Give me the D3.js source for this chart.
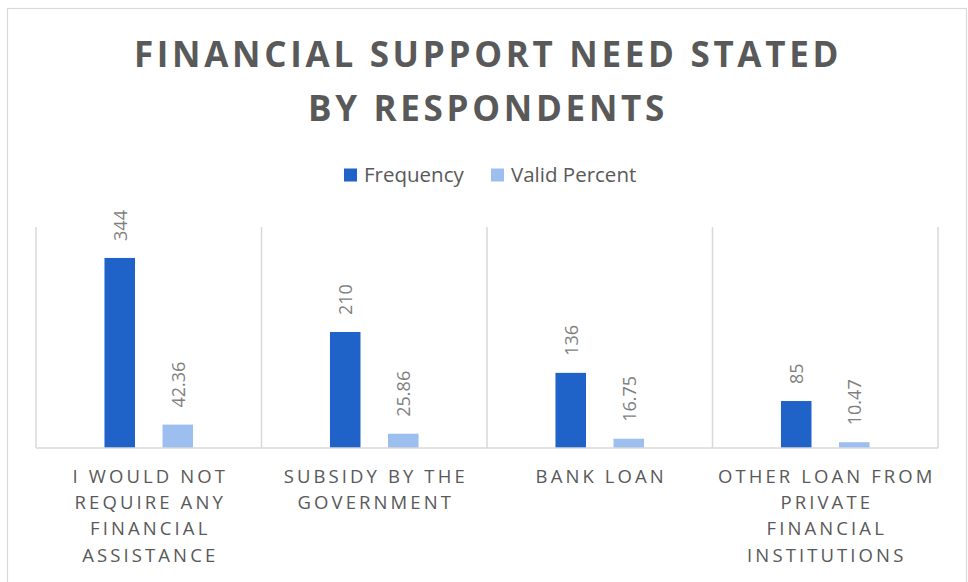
<!DOCTYPE html>
<html>
<head>
<meta charset="utf-8">
<script src="https://cdn.jsdelivr.net/npm/d3@7"></script>
<style>
  html, body { margin: 0; padding: 0; background: #ffffff; }
  svg { display: block; font-family: "Open Sans", "Noto Sans", sans-serif; }
</style>
</head>
<body>
<svg id="chart" width="968" height="582"></svg>
<script>
// Survey answers: what kind of financial support respondents say they need
const categories = [
  ["I WOULD NOT", "REQUIRE ANY", "FINANCIAL", "ASSISTANCE"],
  ["SUBSIDY BY THE", "GOVERNMENT"],
  ["BANK LOAN"],
  ["OTHER LOAN FROM", "PRIVATE", "FINANCIAL", "INSTITUTIONS"]
];
const seriesNames = ["Frequency", "Valid Percent"];
const frequency = [344, 210, 136, 85];
const validPercent = [42.36, 25.86, 16.75, 10.47];
const yTicks = [0, 400];
const titleLines = ["FINANCIAL SUPPORT NEED STATED", "BY RESPONDENTS"];

const colors = { "Frequency": "#1f63c8", "Valid Percent": "#9dbfef" };

const svg = d3.select("#chart");
const plot = { left: 36, right: 938, top: 227, bottom: 448 };

// chart frame
svg.append("rect")
  .attr("x", 7.5).attr("y", 8.5)
  .attr("width", 959).attr("height", 590)
  .attr("fill", "#ffffff")
  .attr("stroke", "#d9d9d9").attr("stroke-width", 1.2);

// title
svg.append("g").selectAll("text")
  .data(titleLines).join("text")
  .attr("x", 488)
  .attr("y", (d, i) => 67 + i * 53.5)
  .attr("text-anchor", "middle")
  .attr("fill", "#595959")
  .attr("font-weight", 700)
  .attr("font-size", 35)
  .attr("letter-spacing", 3.7)
  .text(d => d);

const keys = categories.map((c, i) => i);
const x0 = d3.scaleBand().domain(keys).range([plot.left, plot.right]).paddingInner(0).paddingOuter(0);
const x1 = d3.scaleBand().domain(seriesNames).range([0, x0.bandwidth()]).paddingInner(0.474).paddingOuter(1.18);
const y = d3.scaleLinear().domain(d3.extent(yTicks)).range([plot.bottom, plot.top]);

// category separators
const gridX = keys.map(k => x0(k)).concat([plot.right]);
svg.append("g").selectAll("line")
  .data(gridX).join("line")
  .attr("x1", d => d).attr("x2", d => d)
  .attr("y1", y(yTicks[1])).attr("y2", plot.bottom)
  .attr("stroke", "#d9d9d9").attr("stroke-width", 1.5);

// bars
const rows = keys.map(i => ({ i, values: [
  { key: "Frequency", value: frequency[i], label: String(frequency[i]) },
  { key: "Valid Percent", value: validPercent[i], label: validPercent[i].toFixed(2) }
]}));

const groups = svg.append("g").selectAll("g")
  .data(rows).join("g")
  .attr("transform", d => `translate(${x0(d.i)},0)`);

groups.selectAll("rect")
  .data(d => d.values).join("rect")
  .attr("x", d => x1(d.key))
  .attr("y", d => y(d.value))
  .attr("width", x1.bandwidth())
  .attr("height", d => plot.bottom - y(d.value))
  .attr("fill", d => colors[d.key]);

// value labels, rotated
groups.selectAll("text")
  .data(d => d.values).join("text")
  .attr("transform", d => `translate(${x1(d.key) + x1.bandwidth() / 2},${y(d.value) - 17}) rotate(-90)`)
  .attr("dominant-baseline", "central")
  .attr("fill", "#7f7f7f")
  .attr("font-size", 18)
  .text(d => d.label);

// baseline
svg.append("line")
  .attr("x1", plot.left).attr("x2", plot.right)
  .attr("y1", plot.bottom).attr("y2", plot.bottom)
  .attr("stroke", "#d9d9d9").attr("stroke-width", 1.5);

// category labels
const catG = svg.append("g").selectAll("text")
  .data(keys).join("text")
  .attr("x", k => x0(k) + x0.bandwidth() / 2)
  .attr("y", 483)
  .attr("text-anchor", "middle")
  .attr("fill", "#595959")
  .attr("font-size", 18.5)
  .attr("letter-spacing", 3.1);
catG.selectAll("tspan")
  .data(k => categories[k].map(t => ({ t, k }))).join("tspan")
  .attr("x", d => x0(d.k) + x0.bandwidth() / 2 + 1.5)
  .attr("dy", (d, j) => j === 0 ? 0 : 26.2)
  .text(d => d.t);

// legend
const legendItems = [
  { key: seriesNames[0], x: 344 },
  { key: seriesNames[1], x: 491 }
];
const lg = svg.append("g").selectAll("g")
  .data(legendItems).join("g")
  .attr("transform", d => `translate(${d.x},168.5)`);
lg.append("rect")
  .attr("width", 13).attr("height", 13)
  .attr("fill", d => colors[d.key]);
lg.append("text")
  .attr("x", 20).attr("y", 13.5)
  .attr("fill", "#595959")
  .attr("font-size", 20.5)
  .text(d => d.key);
</script>
</body>
</html>
